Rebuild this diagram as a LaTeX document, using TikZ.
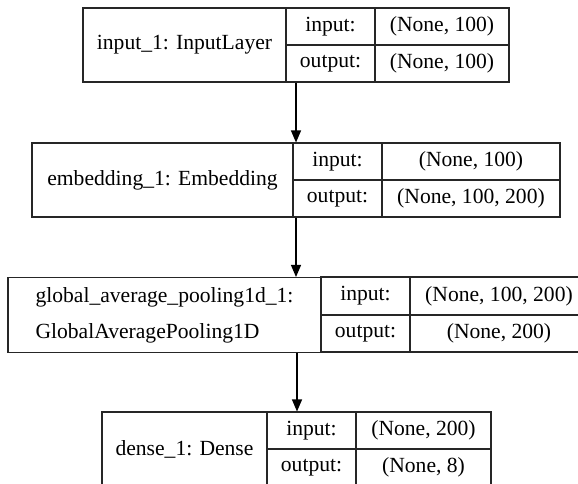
\documentclass[tikz,border=0pt]{standalone}
\usepackage{fontspec}
\setmainfont{Liberation Serif}
\usetikzlibrary{arrows.meta}
\tikzset{
  cellbox/.style={draw=black!85, line width=0.8pt, rectangle, inner sep=0pt,
    font=\fontsize{16.2}{27}\selectfont, text=black},
  namecell/.style={cellbox, minimum height=74*0.75pt},
  halfcell/.style={cellbox, minimum height=37*0.75pt},
  arr/.style={draw=black, line width=0.9pt, -{Triangle[length=9pt,width=7.5pt]}}
}
\begin{document}
\begin{tikzpicture}[x=0.75pt,y=-0.75pt]
\useasboundingbox (0,0) rectangle (578,484);
\clip (0,0) rectangle (578,484);
\fill[white] (0,0) rectangle (578,484);
% layer 1
\node[namecell, minimum width=203*0.75pt] (n1) at (184.5,45) {input\_1: InputLayer};
\node[halfcell, minimum width=89*0.75pt] (i1) at (330.5,26.5) {input:};
\node[halfcell, minimum width=89*0.75pt] (o1) at (330.5,63.5) {output:};
\node[halfcell, minimum width=134*0.75pt] (iv1) at (442,26.5) {(None, 100)};
\node[halfcell, minimum width=134*0.75pt] (ov1) at (442,63.5) {(None, 100)};
% layer 2
\node[namecell, minimum width=261*0.75pt] (n2) at (162.5,180) {embedding\_1: Embedding};
\node[halfcell, minimum width=89*0.75pt] (i2) at (337.5,161.5) {input:};
\node[halfcell, minimum width=89*0.75pt] (o2) at (337.5,198.5) {output:};
\node[halfcell, minimum width=178*0.75pt] (iv2) at (471,161.5) {(None, 100)};
\node[halfcell, minimum width=178*0.75pt] (ov2) at (471,198.5) {(None, 100, 200)};
% layer 3
\node[cellbox, minimum height=75*0.75pt, minimum width=313*0.75pt, align=left] (n3) at (164.5,315) {global\_average\_pooling1d\_1:\\GlobalAveragePooling1D};
\node[cellbox, minimum height=38*0.75pt, minimum width=89*0.75pt] (i3) at (365.5,296) {input:};
\node[cellbox, minimum height=37*0.75pt, minimum width=89*0.75pt] (o3) at (365.5,333.5) {output:};
\node[cellbox, minimum height=38*0.75pt, minimum width=178*0.75pt] (iv3) at (499,296) {(None, 100, 200)};
\node[cellbox, minimum height=37*0.75pt, minimum width=178*0.75pt] (ov3) at (499,333.5) {(None, 200)};
% layer 4
\node[namecell, minimum width=165*0.75pt] (n4) at (184.5,449) {dense\_1: Dense};
\node[halfcell, minimum width=89*0.75pt] (i4) at (311.5,430.5) {input:};
\node[halfcell, minimum width=89*0.75pt] (o4) at (311.5,467.5) {output:};
\node[halfcell, minimum width=135*0.75pt] (iv4) at (423.5,430.5) {(None, 200)};
\node[halfcell, minimum width=135*0.75pt] (ov4) at (423.5,467.5) {(None, 8)};
% connectors
\coordinate (ax) at (296,0);
\coordinate (ax3) at (297,0);
\draw[arr] (o1.south -| ax) -- (n2.north -| ax);
\draw[arr] (o2.south -| ax) -- (n3.north -| ax);
\draw[arr] (o3.south -| ax3) -- (i4.north -| ax3);
\end{tikzpicture}
\end{document}
